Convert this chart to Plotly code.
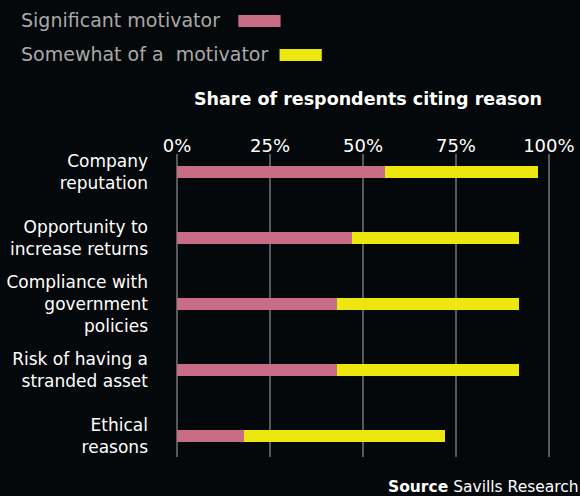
import plotly.graph_objects as go

categories = ["Company<br>reputation", "Opportunity to<br>increase returns",
              "Compliance with<br>government<br>policies",
              "Risk of having a<br>stranded asset", "Ethical<br>reasons"]
significant = [56, 47, 43, 43, 18]
somewhat = [41, 45, 49, 49, 54]
tick_vals = [0, 25, 50, 75, 100]
tick_text = ["0%", "25%", "50%", "75%", "100%"]

PINK = "#C96C85"
YELLOW = "#ECE80F"
BG = "#05080A"
FONT = "DejaVu Sans"

fig = go.Figure()
fig.add_trace(go.Bar(y=categories, x=significant, orientation="h", name="Significant motivator",
                     marker=dict(color=PINK, line=dict(width=0)), width=0.18))
fig.add_trace(go.Bar(y=categories, x=somewhat, orientation="h", name="Somewhat of a  motivator",
                     marker=dict(color=YELLOW, line=dict(width=0)), width=0.18))

fig.update_layout(
    width=580, height=496, barmode="stack", showlegend=False,
    paper_bgcolor=BG, plot_bgcolor=BG,
    margin=dict(l=176, r=30, t=154, b=39),
    font=dict(family=FONT, color="white", size=17),
    xaxis=dict(side="top", range=[-0.3, 100.3], tickvals=tick_vals, ticktext=tick_text,
               showgrid=True, gridcolor="#55585D", gridwidth=2, zeroline=False,
               showline=False, ticks="", ticklabelstandoff=-3, automargin=False,
               tickfont=dict(size=18, color="white", family=FONT)),
    yaxis=dict(type="category", range=[4.32, -0.27], showgrid=False, zeroline=False,
               ticks="", ticklabelstandoff=27, automargin=False,
               tickfont=dict(size=17, color="white", family=FONT)),
)

def px_x(px):
    return (px - 177) / 372

def px_y(py):
    return 1 + (154 - py) / 303

# legend drawn as text + swatch (swatch after text as in original)
fig.add_annotation(xref="paper", yref="paper", x=px_x(21), y=px_y(20), xanchor="left",
                   yanchor="middle", text="Significant motivator", showarrow=False,
                   font=dict(size=19, color="#A9A9A9", family=FONT))
fig.add_annotation(xref="paper", yref="paper", x=px_x(21), y=px_y(54), xanchor="left",
                   yanchor="middle", text="Somewhat of a  motivator", showarrow=False,
                   font=dict(size=19, color="#A9A9A9", family=FONT))
fig.add_shape(type="rect", xref="paper", yref="paper",
              x0=px_x(239), x1=px_x(281), y0=px_y(27), y1=px_y(15),
              fillcolor=PINK, line=dict(width=0))
fig.add_shape(type="rect", xref="paper", yref="paper",
              x0=px_x(280), x1=px_x(322), y0=px_y(61), y1=px_y(49),
              fillcolor=YELLOW, line=dict(width=0))

fig.add_annotation(xref="paper", yref="paper", x=px_x(368), y=px_y(99),
                   xanchor="center", yanchor="middle", text="<b>Share of respondents citing reason</b>",
                   showarrow=False, font=dict(size=17.5, color="white", family=FONT))
fig.add_annotation(xref="paper", yref="paper", x=px_x(580), y=px_y(487),
                   xanchor="right", yanchor="middle", text="<b>Source</b> Savills Research",
                   showarrow=False, font=dict(size=15.5, color="white", family=FONT))

fig.write_html("out.html", post_script="document.body.style.margin='0';",
               config={"displayModeBar": False})
